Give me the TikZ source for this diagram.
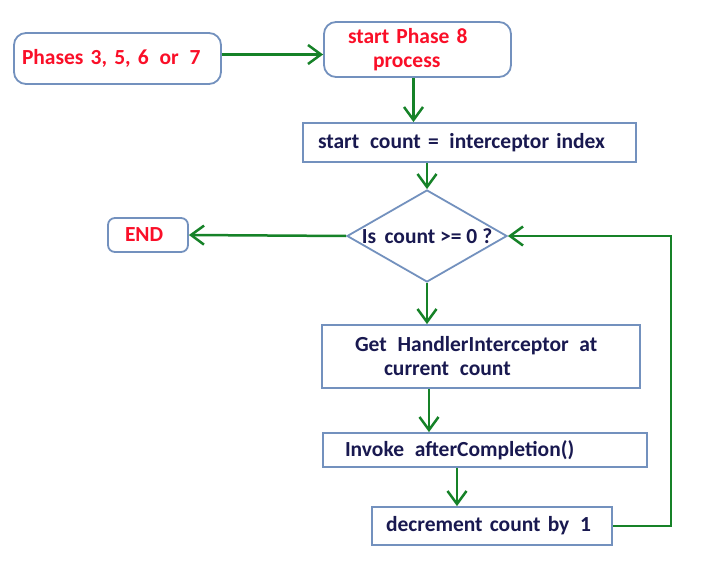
\documentclass[tikz,border=0pt]{standalone}
\usepackage{fontspec}
\setmainfont{Carlito}
\usetikzlibrary{shapes.geometric,arrows.meta}
\definecolor{boxblue}{RGB}{115,145,190}
\definecolor{arrgreen}{RGB}{22,130,40}
\definecolor{txtnavy}{RGB}{25,25,80}
\definecolor{txtred}{RGB}{250,15,40}
\begin{document}
\begin{tikzpicture}[x=1pt,y=-1pt,
    box/.style={draw=boxblue,line width=1.8pt,fill=white,align=left,inner ysep=0pt,
      font=\fontsize{21.5}{24}\selectfont\bfseries,text=txtnavy},
    term/.style={box,rounded corners=12pt,text=txtred},
    check/.style={box,diamond,minimum width=160pt,minimum height=92pt,inner sep=0pt,align=center},
    arr/.style={draw=arrgreen,line width=2.5pt,-{Straight Barb[length=13pt,width=19pt]}}]
    \useasboundingbox (0,0) rectangle (703,572);
    % terminals
    \node[term,minimum width=207pt,minimum height=51pt,inner xsep=8pt,text width=191pt] (phases) at (117.5,58.5) {Phases 3, 5, 6\ \,or\ \,7};
    \node[term,minimum width=187pt,minimum height=55pt,inner xsep=24pt,text width=139pt] (start8) at (417.5,49.5) {start Phase 8\\\hspace*{25pt}process};
    \node[term,rounded corners=7pt,minimum width=80pt,minimum height=34pt,inner xsep=17pt,text width=46pt] (stop) at (148,235) {END};
    % steps
    \node[box,minimum width=333pt,minimum height=39pt,inner xsep=15pt,text width=303pt] (count) at (469.5,142.5) {\mbox{start\ \,count =\ \,interceptor index}};
    \node[check] (test) at (427,236) {\makebox[0pt]{Is\ \,count >= 0 ?}};
    \node[box,minimum width=318pt,minimum height=63pt,inner xsep=33pt,text width=252pt] (get) at (481,356.5) {\mbox{Get\ \,HandlerInterceptor\ \,at}\\\hspace*{29pt}current\ \,count};
    \node[box,minimum width=324pt,minimum height=34pt,inner xsep=22pt,text width=280pt] (invoke) at (485,450) {Invoke\ \,afterCompletion()};
    \node[box,minimum width=240pt,minimum height=38pt,inner xsep=14pt,text width=212pt] (decr) at (492,526) {\mbox{decrement count by\ \,1}};
    \coordinate (back) at (671,236);
    % connectors
    \draw[arr] ([yshift=4pt]phases.east) -- ([yshift=4pt]phases.east -| start8.west);
    \draw[arr] ([xshift=-4pt]start8.south) -- ([xshift=-4pt]start8.south |- count.north);
    \draw[arr] (count.south -| test.north) -- (test.north);
    \draw[arr] (test.west) -- (stop.east);
    \draw[arr] (test.south) -- (test.south |- get.north);
    \draw[arr] ([xshift=-52pt]get.south) -- ([xshift=-52pt]get.south |- invoke.north);
    \draw[arr] ([xshift=-28pt]invoke.south) -- ([xshift=-28pt]invoke.south |- decr.north);
    \draw[arr] (decr.east) -| (back) -- (test.east);
\end{tikzpicture}
\end{document}
